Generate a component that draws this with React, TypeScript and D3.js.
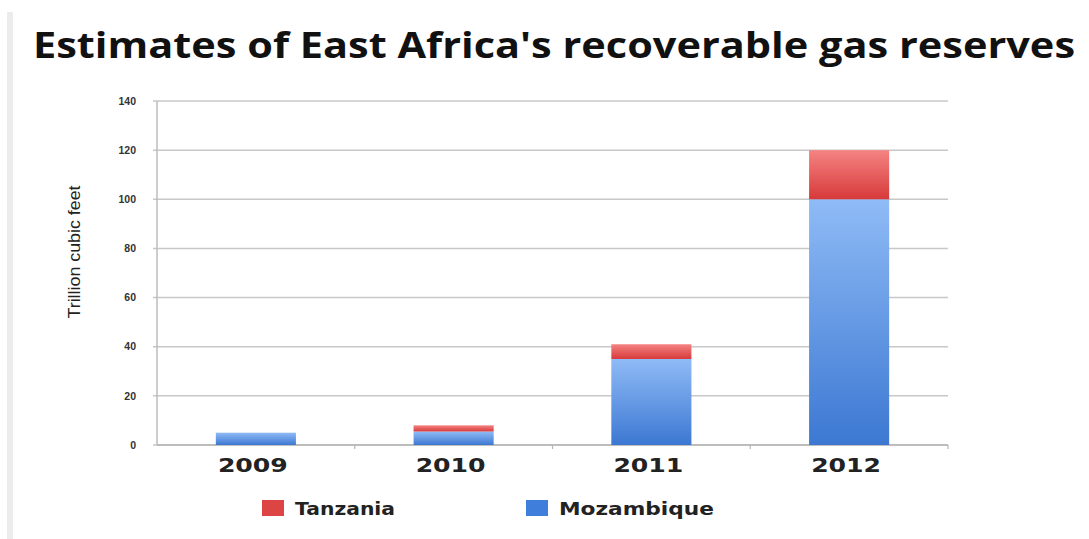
import React from "react";
import * as d3 from "d3";

const years = ["2009", "2010", "2011", "2012"];
const mozambique = [5, 5.5, 35, 100];
const tanzania = [0, 2.5, 6, 20];
const yTicks = [0, 20, 40, 60, 80, 100, 120, 140];
const seriesNames = ["Tanzania", "Mozambique"];

const W = 1089;
const H = 539;
const plot = { left: 157, right: 948, top: 101, bottom: 445 };

export default function App() {
  const x = d3
    .scaleBand<string>()
    .domain(years)
    .range([plot.left, plot.right])
    .paddingInner(0.595)
    .paddingOuter(0.2975);
  const y = d3.scaleLinear().domain([0, 140]).range([plot.bottom, plot.top]);

  const rows = years.map((yr, i) => ({ year: yr, Mozambique: mozambique[i], Tanzania: tanzania[i] }));
  const stack = d3.stack<any>().keys(["Mozambique", "Tanzania"])(rows);

  const step = x.step();
  const boundaries = years.map((_, i) => plot.left + step * (i + 1));

  return (
    <svg
      width={W}
      height={H}
      style={{ position: "absolute", left: 0, top: 0, background: "#fff" }}
    >
      <defs>
        <linearGradient id="gBlue" x1="0" y1="0" x2="0" y2="1">
          <stop offset="0" stopColor="#8fbbf6" />
          <stop offset="1" stopColor="#3c78d2" />
        </linearGradient>
        <linearGradient id="gRed" x1="0" y1="0" x2="0" y2="1">
          <stop offset="0" stopColor="#f58383" />
          <stop offset="1" stopColor="#d73a3a" />
        </linearGradient>
      </defs>
      <rect x={0} y={0} width={W} height={H} fill="#fff" />
      <rect x={7} y={12} width={6} height={H - 12} fill="#ececec" />

      <text
        x={33}
        y={58}
        fontFamily="'Open Sans', 'Liberation Sans', sans-serif"
        fontWeight="bold"
        fontSize={36}
        fill="#111"
        textLength={1042}
        lengthAdjust="spacingAndGlyphs"
      >
        Estimates of East Africa's recoverable gas reserves
      </text>

      {/* gridlines */}
      {yTicks.map((t) => (
        <line
          key={"g" + t}
          x1={plot.left - 4}
          x2={plot.right}
          y1={y(t)}
          y2={y(t)}
          stroke="#c8c8c8"
          strokeWidth={1.5}
        />
      ))}
      {yTicks.map((t) => (
        <text
          key={"t" + t}
          x={136}
          y={y(t)}
          dy="0.35em"
          textAnchor="end"
          fontFamily="'Liberation Sans', sans-serif"
          fontWeight="bold"
          fontSize={10.5}
          fill="#333"
        >
          {t}
        </text>
      ))}
      <line x1={plot.left} x2={plot.left} y1={plot.top} y2={plot.bottom} stroke="#bdbdbd" strokeWidth={1.5} />
      <line x1={plot.left} x2={plot.right} y1={plot.bottom} y2={plot.bottom} stroke="#b5b5b5" strokeWidth={1.5} />
      {boundaries.map((b, i) => (
        <line key={"b" + i} x1={b} x2={b} y1={plot.bottom} y2={plot.bottom + 4} stroke="#b5b5b5" strokeWidth={1.2} />
      ))}

      <text
        transform={`translate(80, 252) rotate(-90)`}
        textAnchor="middle"
        fontFamily="'Liberation Sans Narrow', 'Liberation Sans', sans-serif"
        fontSize={17}
        fill="#222"
        textLength={133}
        lengthAdjust="spacingAndGlyphs"
      >
        Trillion cubic feet
      </text>

      {/* bars */}
      {stack.map((s) =>
        s.map((d, i) => {
          const h = y(d[0]) - y(d[1]);
          if (h <= 0) return null;
          return (
            <rect
              key={s.key + i}
              x={x(years[i])}
              y={y(d[1])}
              width={x.bandwidth()}
              height={h}
              fill={s.key === "Mozambique" ? "url(#gBlue)" : "url(#gRed)"}
            />
          );
        })
      )}

      {/* category labels */}
      {years.map((yr) => (
        <text
          key={"c" + yr}
          x={(x(yr) as number) + x.bandwidth() / 2 - 3}
          y={472}
          textAnchor="middle"
          fontFamily="'DejaVu Sans', sans-serif"
          fontWeight="bold"
          fontSize={19}
          fill="#222"
          textLength={70}
          lengthAdjust="spacingAndGlyphs"
        >
          {yr}
        </text>
      ))}

      {/* legend */}
      {seriesNames.map((n, i) => {
        const sx = i === 0 ? 262 : 526;
        const tl = i === 0 ? 100 : 155;
        return (
          <g key={"l" + n}>
            <rect x={sx} y={500} width={22} height={16} fill={i === 0 ? "#dd4545" : "#3f7fdb"} />
            <text
              x={sx + 33}
              y={515}
              fontFamily="'DejaVu Sans', sans-serif"
              fontWeight="bold"
              fontSize={17}
              fill="#222"
              textLength={tl}
              lengthAdjust="spacingAndGlyphs"
            >
              {n}
            </text>
          </g>
        );
      })}
    </svg>
  );
}
